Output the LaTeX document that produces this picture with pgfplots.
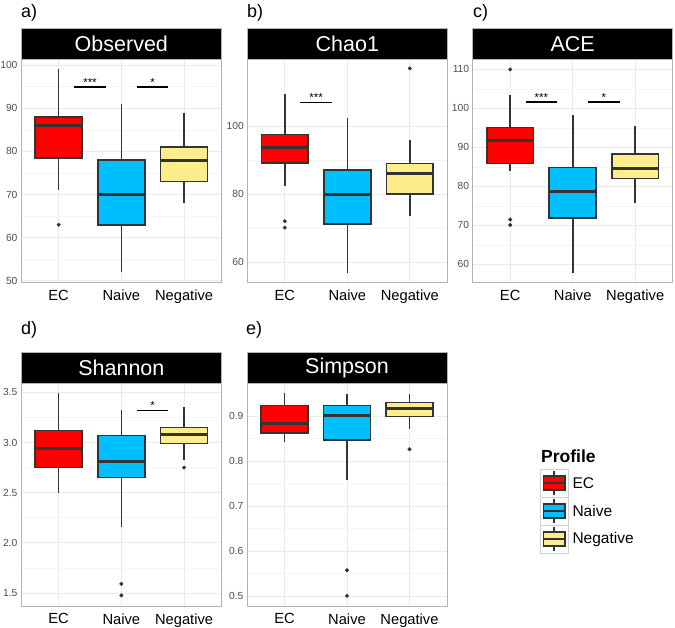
\documentclass[border=0pt]{standalone}
\usepackage{fontspec}
\setmainfont{Liberation Sans}
\usepackage{pgfplots}
\pgfplotsset{compat=1.18}
\definecolor{ecred}{HTML}{FF0000}
\definecolor{naiveblue}{HTML}{00BFFF}
\definecolor{negyellow}{HTML}{FFEC8B}
\definecolor{grey20}{HTML}{333333}
\definecolor{grey30}{HTML}{4D4D4D}
\definecolor{gridmaj}{HTML}{EBEBEB}
\definecolor{gridmin}{HTML}{F5F5F5}
\definecolor{border}{HTML}{B3B3B3}

\pgfplotsset{
  panel/.style={
    scale only axis, anchor=south west,
    width=200pt, height=223pt,
    xmin=0.4, xmax=3.6,
    xtick={1,2,3}, xticklabels={EC,Naive,Negative},
    minor y tick num=1,
    grid=both,
    major grid style={gridmaj, line width=0.7pt},
    minor grid style={gridmin, line width=0.5pt},
    axis line style={border, line width=0.8pt},
    tick style={draw=none},
    x tick label style={font=\fontsize{14.7}{16}\selectfont, text=black, yshift=-4pt},
    y tick label style={font=\fontsize{10.3}{12}\selectfont, text=grey30},
    /pgf/number format/assume math mode=true,
    clip=false,
  },
  whisk/.style={grey20, line width=1.6pt, mark=none},
  boxst/.style={draw=grey20, line width=1.6pt, mark=none},
  medst/.style={grey20, line width=3pt, mark=none},
  outst/.style={only marks, mark=*, mark size=1.8pt, grey20},
  sig/.style={black, line width=1.7pt, mark=none},
}
% colour, left, centre, right, lower whisker, Q1, median, Q3, upper whisker
\newcommand{\bbox}[9]{%
  \addplot[whisk] coordinates {(#3,#5) (#3,#9)};
  \addplot[boxst, fill=#1] coordinates {(#2,#6) (#4,#6) (#4,#8) (#2,#8)} --cycle;
  \addplot[medst] coordinates {(#2,#7) (#4,#7)};
}
\newcommand{\stars}[3]{\node[font=\fontsize{11.5}{13}\selectfont, anchor=base, inner sep=0pt, yshift=0.5pt] at (axis cs:#1,#2) {#3};}

\begin{document}
\begin{tikzpicture}[x=1pt, y=1pt]
\useasboundingbox (0,0) rectangle (675,628);

% a) Observed
\begin{axis}[panel, at={(21pt,345.7pt)}, width=200.7pt,
  ymin=49.65, ymax=101.35, ytick={50,60,70,80,90,100}]
\bbox{ecred}{0.625}{1}{1.375}{71}{78.5}{86}{88}{99}
\bbox{naiveblue}{1.625}{2}{2.375}{52}{63}{70}{78}{91}
\bbox{negyellow}{2.625}{3}{3.375}{68}{73}{78}{81}{89}
\addplot[outst] coordinates {(1,63)};
\addplot[sig] coordinates {(1.25,95) (1.75,95)};
\addplot[sig] coordinates {(2.25,95) (2.75,95)};
\stars{1.5}{95}{***}
\stars{2.5}{95}{*}
\end{axis}

% b) Chao1
\begin{axis}[panel, at={(247.3pt,345.7pt)},
  ymin=54, ymax=119.7, ytick={60,80,100}]
\bbox{ecred}{0.625}{1}{1.375}{82.4}{89.2}{93.8}{97.5}{109.5}
\bbox{naiveblue}{1.625}{2}{2.375}{56.8}{71.1}{79.9}{87}{102.4}
\bbox{negyellow}{2.625}{3}{3.375}{73.5}{80}{86.1}{89}{95.9}
\addplot[outst] coordinates {(1,72) (1,70.1) (3,117)};
\addplot[sig] coordinates {(1.25,107) (1.75,107)};
\stars{1.5}{107}{***}
\end{axis}

% c) ACE
\begin{axis}[panel, at={(472.7pt,345.7pt)},
  ymin=55.4, ymax=112.6, ytick={60,70,80,90,100,110}]
\bbox{ecred}{0.625}{1}{1.375}{83.9}{85.9}{91.8}{95.1}{103.5}
\bbox{naiveblue}{1.625}{2}{2.375}{57.7}{71.9}{78.7}{84.8}{98.4}
\bbox{negyellow}{2.625}{3}{3.375}{75.7}{82}{84.6}{88.3}{95.6}
\addplot[outst] coordinates {(1,110) (1,71.5) (1,70.1)};
\addplot[sig] coordinates {(1.25,101.6) (1.75,101.6)};
\addplot[sig] coordinates {(2.25,101.6) (2.75,101.6)};
\stars{1.5}{101.6}{***}
\stars{2.5}{101.6}{*}
\end{axis}

% d) Shannon
\begin{axis}[panel, at={(21pt,22pt)}, width=200.7pt, height=222.7pt,
  ymin=1.369, ymax=3.591, ytick={1.5,2,2.5,3,3.5}, yticklabels={1.5,2.0,2.5,3.0,3.5}]
\bbox{ecred}{0.625}{1}{1.375}{2.5}{2.75}{2.94}{3.12}{3.49}
\bbox{naiveblue}{1.625}{2}{2.375}{2.16}{2.65}{2.81}{3.07}{3.32}
\bbox{negyellow}{2.625}{3}{3.375}{2.83}{2.99}{3.08}{3.15}{3.35}
\addplot[outst] coordinates {(2,1.59) (2,1.475) (3,2.75)};
\addplot[sig] coordinates {(2.25,3.32) (2.75,3.32)};
\stars{2.5}{3.32}{*}
\end{axis}

% e) Simpson
\begin{axis}[panel, at={(247pt,22pt)}, height=222.7pt,
  ymin=0.4775, ymax=0.9725, ytick={0.5,0.6,0.7,0.8,0.9}, yticklabels={0.5,0.6,0.7,0.8,0.9}]
\bbox{ecred}{0.625}{1}{1.375}{0.841}{0.862}{0.883}{0.923}{0.95}
\bbox{naiveblue}{1.625}{2}{2.375}{0.758}{0.846}{0.9}{0.923}{0.948}
\bbox{negyellow}{2.625}{3}{3.375}{0.872}{0.899}{0.917}{0.93}{0.948}
\addplot[outst] coordinates {(2,0.557) (2,0.5) (3,0.826)};
\end{axis}

% strips
\foreach \xl/\xr/\yb/\yt/\txt in {21/221.7/568.7/599.7/Observed, 247.3/447.3/568.7/599.7/Chao1, 472.7/672.7/568.7/599.7/ACE, 21/221.7/244.7/275.3/Shannon, 247/447/244.7/275.3/Simpson}{
  \fill[black, draw=border, line width=0.7pt] (\xl,\yb) rectangle (\xr,\yt);
  \node[text=white, font=\fontsize{21.5}{24}\selectfont, anchor=center] at ({(\xl+\xr)/2},{(\yb+\yt)/2}) {\txt};
}

% panel letters
\foreach \x/\y/\l in {21/615/a, 247/615/b, 473/615/c, 21/298/d, 246/298/e}{
  \node[anchor=west, inner sep=0pt, font=\fontsize{18}{20}\selectfont] at (\x,\y) {\l)};
}

% legend
\node[anchor=base west, inner sep=0pt, font=\fontsize{17.5}{19}\selectfont\bfseries] at (541,165.3) {Profile};
\foreach \yc/\col/\lab in {145/ecred/EC, 117/naiveblue/Naive, 89/negyellow/Negative}{
  \draw[border!60, fill=white, line width=0.8pt] (540,\yc-14) rectangle (568,\yc+14);
  \draw[grey20, line width=1.2pt] (554,\yc-12) -- (554,\yc+12);
  \draw[grey20, fill=\col, line width=1.3pt] (543.3,\yc-7) rectangle (565,\yc+7);
  \draw[grey20, line width=2pt] (543.3,\yc) -- (565,\yc);
  \node[anchor=west, inner sep=0pt, font=\fontsize{15.5}{17}\selectfont] at (572.3,\yc) {\lab};
}
\end{tikzpicture}
\end{document}
